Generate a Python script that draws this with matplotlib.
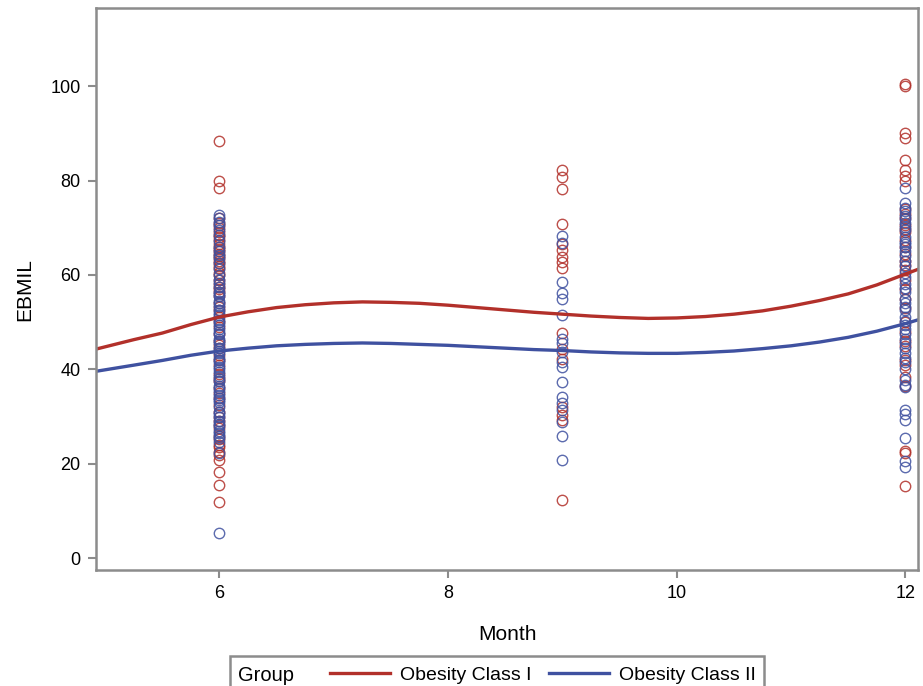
import matplotlib
matplotlib.use("Agg")
import matplotlib.pyplot as plt
from matplotlib.lines import Line2D
from matplotlib.patches import Rectangle

plt.rcParams["font.family"] = ["Liberation Sans", "DejaVu Sans"]

# ── adatok ─────────────────────────────────────────────────────────────────
groups = ["Obesity Class I", "Obesity Class II"]

red_m6 = [88.4, 80.0, 78.5, 72.0, 71.0, 70.5, 70.0, 69.0, 68.5, 68.0, 67.5, 66.5,
          66.0, 65.5, 65.0, 64.5, 64.0, 63.5, 63.0, 62.5, 62.0, 61.5, 60.5, 60.0,
          59.0, 58.0, 57.5, 57.0, 56.3, 55.5, 54.0, 53.3, 52.5, 51.0, 50.0, 49.0,
          47.5, 46.0, 45.2, 44.5, 43.0, 42.0, 41.0, 39.0, 38.2, 37.5, 36.0, 35.0,
          34.0, 32.5, 31.0, 30.0, 29.0, 28.2, 27.5, 26.0, 25.2, 24.0, 23.5, 22.6,
          21.8, 20.8, 18.3, 15.5, 11.9]
blue_m6 = [72.8, 72.0, 71.3, 70.5, 69.5, 68.5, 67.3, 66.0, 65.0, 64.2, 63.5, 62.5,
           61.2, 60.0, 59.0, 58.3, 57.5, 56.5, 56.0, 55.5, 54.5, 54.0, 53.5, 52.5,
           52.0, 51.5, 50.5, 50.0, 49.5, 48.5, 48.0, 47.5, 46.5, 46.0, 45.5, 44.5,
           44.0, 43.5, 42.5, 42.0, 41.5, 40.5, 40.0, 39.5, 38.5, 38.0, 37.5, 36.5,
           36.0, 35.5, 34.5, 34.0, 33.5, 33.0, 32.0, 31.0, 30.5, 30.0, 29.0, 28.5,
           28.0, 27.0, 26.5, 26.0, 25.5, 24.6, 22.2, 5.4]
red_m9 = [82.2, 80.7, 78.3, 70.8, 66.5, 65.3, 63.8, 62.8, 61.4, 47.7, 44.4, 42.3,
          32.1, 30.3, 29.2, 12.3]
blue_m9 = [68.2, 66.7, 58.6, 56.1, 55.0, 51.5, 46.5, 45.5, 43.7, 41.5, 40.5, 37.4,
           34.2, 32.8, 31.4, 28.9, 25.8, 20.8]
red_m12 = [100.4, 100.0, 90.0, 89.0, 84.3, 82.2, 81.0, 80.0, 74.0, 73.0, 72.0, 70.5,
           69.8, 69.0, 67.5, 66.0, 64.5, 63.0, 62.2, 61.0, 59.0, 57.0, 55.0, 53.0,
           50.0, 48.0, 46.0, 45.0, 42.0, 41.0, 38.4, 36.5, 22.8, 22.3, 15.3]
blue_m12 = [78.5, 75.2, 74.2, 73.5, 72.5, 71.8, 71.0, 70.2, 69.5, 68.0, 67.0, 66.5,
            66.0, 65.0, 64.0, 63.0, 62.0, 60.5, 59.5, 58.0, 57.2, 56.5, 55.0, 54.0,
            53.2, 52.5, 51.0, 50.2, 49.5, 48.5, 47.5, 46.5, 45.5, 44.5, 43.5, 42.5,
            41.5, 40.0, 37.8, 36.8, 36.2, 31.5, 30.5, 29.2, 25.4, 20.7, 19.3]

# illesztett görbék pontjai
curve_x = [4.92, 5.25, 5.5, 5.75, 6.0, 6.25, 6.5, 6.75, 7.0, 7.25, 7.5, 7.75, 8.0,
           8.25, 8.5, 8.75, 9.0, 9.25, 9.5, 9.75, 10.0, 10.25, 10.5, 10.75, 11.0,
           11.25, 11.5, 11.75, 12.0, 12.11]
red_curve = [44.3, 46.3, 47.7, 49.5, 51.1, 52.2, 53.1, 53.7, 54.1, 54.3, 54.2, 54.0,
             53.6, 53.1, 52.6, 52.1, 51.7, 51.3, 51.0, 50.8, 50.9, 51.2, 51.7, 52.4,
             53.4, 54.6, 56.0, 57.9, 60.2, 61.2]
blue_curve = [39.6, 40.9, 41.9, 43.0, 43.9, 44.5, 45.0, 45.3, 45.5, 45.6, 45.5, 45.3,
              45.1, 44.8, 44.5, 44.2, 44.0, 43.7, 43.5, 43.4, 43.4, 43.6, 43.9, 44.4,
              45.0, 45.8, 46.8, 48.1, 49.7, 50.5]

RED = "#B2302A"
BLUE = "#3F51A0"
FRAME = "#8C8C8C"

fig = plt.figure(figsize=(9.23, 6.86), dpi=100)
ax = fig.add_axes([0.104, 0.169, 0.8906, 0.819])

# pontok
for month, reds, blues in [(6, red_m6, blue_m6), (9, red_m9, blue_m9), (12, red_m12, blue_m12)]:
    ax.plot([month] * len(reds), reds, ls="none", marker="o", ms=7.5, mfc="none",
            mec=RED, mew=1.0, alpha=0.85)
    ax.plot([month] * len(blues), blues, ls="none", marker="o", ms=7.5, mfc="none",
            mec=BLUE, mew=1.0, alpha=0.85)

ax.plot(curve_x, red_curve, color=RED, lw=2.4)
ax.plot(curve_x, blue_curve, color=BLUE, lw=2.4)

ax.set_xlim(4.92, 12.11)
ax.set_ylim(-2.5, 116.5)
ax.set_xticks([6, 8, 10, 12])
ax.set_yticks([0, 20, 40, 60, 80, 100])
ax.tick_params(direction="out", length=6, width=1.5, color=FRAME, labelsize=13,
               labelcolor="black", pad=5)
ax.set_xlabel("Month", fontsize=15, labelpad=16)
ax.set_ylabel("EBMIL", fontsize=15, labelpad=12)
for sp in ax.spines.values():
    sp.set_color(FRAME)
    sp.set_linewidth(1.8)

# jelmagyarázat: "Group" felirat + két bejegyzés, közös keretben
ty = 0.016
gtxt = fig.text(238 / 923, ty, "Group", fontsize=14.5, va="center", ha="left")
handles = [Line2D([], [], color=RED, lw=2.4), Line2D([], [], color=BLUE, lw=2.4)]
leg = fig.legend(handles, groups, ncol=2, loc="center left",
                 bbox_to_anchor=(330 / 923, ty), frameon=False, fontsize=14,
                 handlelength=3.1, handletextpad=0.5, columnspacing=0.9,
                 borderpad=0.0, borderaxespad=0.0)
fig.canvas.draw()
bb = leg.get_window_extent().transformed(fig.transFigure.inverted())
x0 = 230 / 923
fig.add_artist(Rectangle((x0, -0.05), bb.x1 + 8 / 923 - x0, 0.05 + (686 - 656) / 686,
                         transform=fig.transFigure, fill=False, edgecolor=FRAME,
                         linewidth=1.8, clip_on=False))

plt.savefig("out.png", dpi=100)
